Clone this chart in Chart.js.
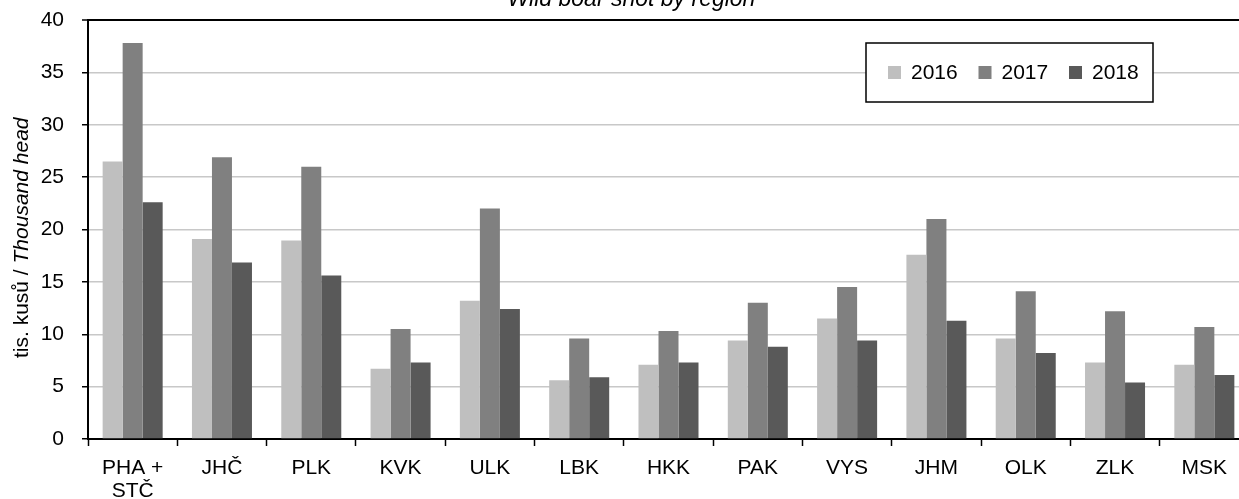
<!DOCTYPE html>
<html>
<head>
<meta charset="utf-8">
<script src="https://cdn.jsdelivr.net/npm/chart.js@4.4.1/dist/chart.umd.min.js"></script>
<style>
  html, body { margin: 0; padding: 0; background: #fff; overflow: hidden; width: 1239px; height: 499px; }
  #wrap { position: absolute; left: 0; top: -14px; width: 1252px; height: 513px; }
</style>
</head>
<body>
<div id="wrap"><canvas id="c" width="1252" height="513"></canvas></div>
<script>
// ---- data ----
const categories = [['PHA +', 'STČ'], 'JHČ', 'PLK', 'KVK', 'ULK', 'LBK', 'HKK', 'PAK', 'VYS', 'JHM', 'OLK', 'ZLK', 'MSK'];
const seriesNames = ['2016', '2017', '2018'];
const values2016 = [26.5, 19.1, 18.95, 6.7, 13.2, 5.6, 7.1, 9.4, 11.5, 17.6, 9.6, 7.3, 7.1];
const values2017 = [37.8, 26.9, 26.0, 10.5, 22.0, 9.6, 10.3, 13.0, 14.5, 21.0, 14.1, 12.2, 10.7];
const values2018 = [22.6, 16.85, 15.6, 7.3, 12.4, 5.9, 7.3, 8.8, 9.4, 11.3, 8.2, 5.4, 6.1];
const yTicks = [0, 5, 10, 15, 20, 25, 30, 35, 40];
const chartTitle = 'Wild boar shot by region';
const yTitleMain = 'tis. kusů / ';
const yTitleItalic = 'Thousand head';

const FONT = "'Liberation Sans', Arial, Helvetica, sans-serif";
const colors = ['#bfbfbf', '#808080', '#595959'];

// y-axis title with mixed styles
const yTitlePlugin = {
  id: 'yTitle',
  afterDraw(chart) {
    const ctx = chart.ctx;
    const a = chart.chartArea;
    ctx.save();
    ctx.fillStyle = '#000';
    ctx.textBaseline = 'alphabetic';
    ctx.textAlign = 'left';
    const f1 = '21px ' + FONT, f2 = 'italic 21px ' + FONT;
    ctx.font = f1; const w1 = ctx.measureText(yTitleMain).width;
    ctx.translate(28, a.bottom - 81);
    ctx.rotate(-Math.PI / 2);
    ctx.font = f1; ctx.fillText(yTitleMain, 0, 0);
    ctx.font = f2; ctx.fillText(yTitleItalic, w1, 0);
    ctx.restore();
  }
};

// boxed legend inside the plot
const boxLegendPlugin = {
  id: 'boxLegend',
  afterDraw(chart) {
    const ctx = chart.ctx;
    const a = chart.chartArea;
    const bx = a.left + 778, by = a.top + 23, bw = 287, bh = 59;
    ctx.save();
    ctx.fillStyle = '#fff';
    ctx.fillRect(bx, by, bw, bh);
    ctx.strokeStyle = '#000';
    ctx.lineWidth = 1.5;
    ctx.strokeRect(bx, by, bw, bh);
    ctx.font = '21px ' + FONT;
    ctx.textBaseline = 'middle';
    ctx.textAlign = 'left';
    const cy = by + bh / 2;
    chart.data.datasets.forEach((ds, i) => {
      const x0 = bx + 22 + i * 90.5;
      ctx.fillStyle = ds.backgroundColor;
      ctx.fillRect(x0, cy - 6.5, 13, 13);
      ctx.fillStyle = '#000';
      ctx.fillText(ds.label, x0 + 23, cy + 1);
    });
    ctx.restore();
  }
};

new Chart(document.getElementById('c'), {
  type: 'bar',
  data: {
    labels: categories,
    datasets: [
      { label: seriesNames[0], data: values2016, backgroundColor: colors[0] },
      { label: seriesNames[1], data: values2017, backgroundColor: colors[1] },
      { label: seriesNames[2], data: values2018, backgroundColor: colors[2] }
    ]
  },
  options: {
    responsive: false,
    animation: false,
    devicePixelRatio: 1,
    layout: { padding: { left: 14, right: 3, top: 0, bottom: 0 } },
    datasets: { bar: { categoryPercentage: 0.672, barPercentage: 1.0, borderWidth: 0 } },
    plugins: {
      legend: { display: false },
      tooltip: { enabled: false },
      title: {
        display: true,
        text: chartTitle,
        color: '#000',
        font: { family: FONT, size: 23, style: 'italic', weight: 'normal', lineHeight: 1.2 },
        padding: { top: 0, bottom: 6.4 }
      }
    },
    scales: {
      x: {
        grid: { display: true, drawOnChartArea: false, drawTicks: true, tickLength: 7, tickColor: '#000', tickWidth: 1.5, offset: true },
        border: { display: true, color: '#000', width: 2 },
        ticks: { color: '#000', font: { family: FONT, size: 21, lineHeight: 1.1 }, padding: 10.5, maxRotation: 0, autoSkip: false },
        afterFit(scale) { scale.height = 60; }
      },
      y: {
        min: 0, max: 40,
        afterBuildTicks(scale) { scale.ticks = yTicks.map(v => ({ value: v })); },
        grid: {
          color: (c) => (c.tick && c.tick.value === 40 ? '#000' : '#c8c8c8'),
          lineWidth: (c) => (c.tick && c.tick.value === 40 ? 2 : 1.5),
          tickColor: '#000', tickLength: 6, tickWidth: 1.5, drawTicks: true
        },
        border: { display: true, color: '#000', width: 2 },
        ticks: { color: '#000', font: { family: FONT, size: 21 }, padding: 18 },
        afterFit(scale) { scale.width = 74; }
      }
    }
  },
  plugins: [yTitlePlugin, boxLegendPlugin]
});
</script>
</body>
</html>
